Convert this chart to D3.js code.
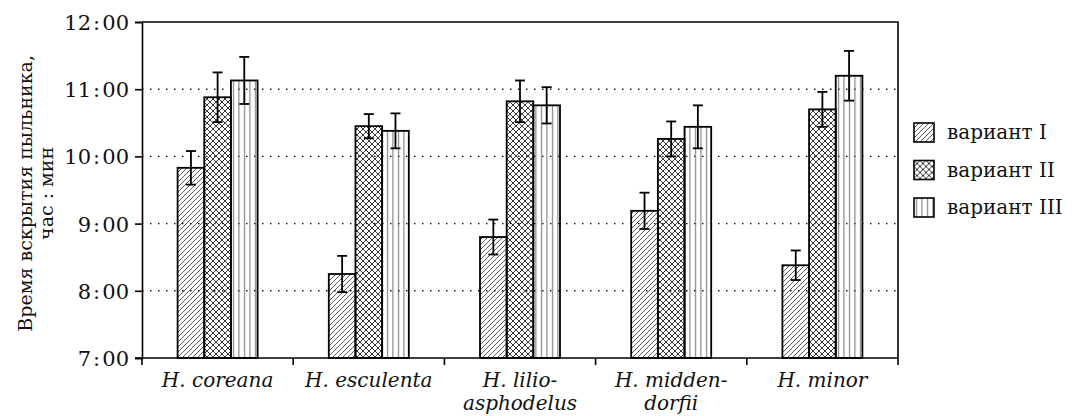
<!DOCTYPE html>
<html>
<head>
<meta charset="utf-8">
<script src="https://cdn.jsdelivr.net/npm/d3@7"></script>
<style>
  body { margin: 0; background: #fff; }
  svg text { font-family: "DejaVu Serif", "Noto Serif", serif; fill: #111; }
</style>
</head>
<body>
<div id="chart"></div>
<script>
// species (two-line labels) and variants
const species = ["H. coreana", "H. esculenta", "H. lilio-asphodelus", "H. midden-dorfii", "H. minor"];
const speciesLines = [["H. coreana"], ["H. esculenta"], ["H. lilio-", "asphodelus"], ["H. midden-", "dorfii"], ["H. minor"]];
const variants = ["вариант I", "вариант II", "вариант III"];

// opening time in hours, per variant (one value per species)
const valuesI   = [9.83, 8.25, 8.80, 9.19, 8.38];
const valuesII  = [10.88, 10.45, 10.82, 10.26, 10.70];
const valuesIII = [11.13, 10.38, 10.76, 10.44, 11.20];
// error (± hours)
const errI   = [0.25, 0.27, 0.26, 0.27, 0.22];
const errII  = [0.37, 0.18, 0.31, 0.26, 0.26];
const errIII = [0.35, 0.26, 0.27, 0.32, 0.37];

const yTicks = [7, 8, 9, 10, 11, 12];
const gridTicks = [8, 9, 10, 11];

const width = 1075, height = 416;
const margin = {left: 142, right: 177, top: 22, bottom: 58};
const serif = "DejaVu Serif";

const svg = d3.select("#chart").append("svg")
    .attr("width", width)
    .attr("height", height);

// patterns
const defs = svg.append("defs");
const pats = ["hatch", "cross", "vert"];
defs.append("pattern").attr("id", "hatch")
    .attr("patternUnits", "userSpaceOnUse").attr("width", 5).attr("height", 5)
    .append("path")
    .attr("d", "M0,5 L5,0 M-1,1 L1,-1 M4,6 L6,4")
    .attr("stroke", "#333").attr("stroke-width", 0.8);
defs.append("pattern").attr("id", "cross")
    .attr("patternUnits", "userSpaceOnUse").attr("width", 6).attr("height", 6)
    .append("path")
    .attr("d", "M0,6 L6,0 M-1,1 L1,-1 M5,7 L7,5 M0,0 L6,6 M-1,5 L1,7 M5,-1 L7,1")
    .attr("stroke", "#222").attr("stroke-width", 0.9);
defs.append("pattern").attr("id", "vert")
    .attr("patternUnits", "userSpaceOnUse").attr("width", 5.5).attr("height", 6)
    .append("path")
    .attr("d", "M2.5,0 L2.5,6")
    .attr("stroke", "#555").attr("stroke-width", 0.9);

const x0 = d3.scaleBand().domain(species).range([margin.left, width - margin.right]);
const groupW = 80;
const x1 = d3.scaleBand().domain(variants).range([0, groupW]);
const y = d3.scaleLinear().domain([7, 12]).range([height - margin.bottom, margin.top]);

const data = [];
species.forEach((s, i) => {
    data.push({s: s, v: variants[0], val: valuesI[i], err: errI[i], p: pats[0]});
    data.push({s: s, v: variants[1], val: valuesII[i], err: errII[i], p: pats[1]});
    data.push({s: s, v: variants[2], val: valuesIII[i], err: errIII[i], p: pats[2]});
});

// grid
svg.append("g").selectAll("line").data(gridTicks).join("line")
    .attr("x1", margin.left).attr("x2", width - margin.right)
    .attr("y1", d => y(d)).attr("y2", d => y(d))
    .attr("stroke", "#111").attr("stroke-width", 1.4)
    .attr("stroke-dasharray", "1.5,6.5");

// bars
const off = (x0.bandwidth() - groupW) / 2;
const bx = d => x0(d.s) + off + x1(d.v);
svg.append("g").selectAll("rect").data(data).join("rect")
    .attr("x", bx)
    .attr("y", d => y(d.val))
    .attr("width", x1.bandwidth())
    .attr("height", d => y(7) - y(d.val))
    .attr("fill", d => `url(#${d.p})`)
    .attr("stroke", "#000").attr("stroke-width", 1.8);

// error bars
const eb = svg.append("g").attr("stroke", "#000").attr("stroke-width", 1.8);
data.forEach(d => {
    const cx = bx(d) + x1.bandwidth() / 2;
    eb.append("line").attr("x1", cx).attr("x2", cx)
        .attr("y1", y(d.val + d.err)).attr("y2", y(d.val - d.err));
    eb.append("line").attr("x1", cx - 5).attr("x2", cx + 5)
        .attr("y1", y(d.val + d.err)).attr("y2", y(d.val + d.err));
    eb.append("line").attr("x1", cx - 5).attr("x2", cx + 5)
        .attr("y1", y(d.val - d.err)).attr("y2", y(d.val - d.err));
});

// frame (top and right)
svg.append("path")
    .attr("d", `M${margin.left},${margin.top} H${width - margin.right} V${height - margin.bottom}`)
    .attr("fill", "none").attr("stroke", "#000").attr("stroke-width", 1.6);

// y axis
const yAxis = svg.append("g")
    .attr("transform", `translate(${margin.left},0)`)
    .call(d3.axisLeft(y).tickValues(yTicks).tickSize(7).tickPadding(6)
        .tickFormat(d => `${d}\u200A:\u200A00`));
yAxis.attr("font-family", serif);
yAxis.selectAll("path, line").attr("stroke", "#000").attr("stroke-width", 1.6);
yAxis.selectAll("text").attr("font-size", 21).attr("font-family", serif).attr("dy", "0.36em");

// x axis
const xAxis = svg.append("g")
    .attr("transform", `translate(0,${height - margin.bottom})`);
xAxis.append("line")
    .attr("x1", margin.left - 7).attr("x2", width - margin.right)
    .attr("stroke", "#000").attr("stroke-width", 1.6);
const bounds = species.map(s => x0(s)).concat([width - margin.right]);
xAxis.selectAll(".tk").data(bounds).join("line")
    .attr("x1", d => d).attr("x2", d => d).attr("y1", 0).attr("y2", 7)
    .attr("stroke", "#000").attr("stroke-width", 1.6);
const lbl = xAxis.selectAll(".lbl").data(species).join("text")
    .attr("text-anchor", "middle")
    .attr("font-family", serif)
    .attr("font-size", 20).attr("font-style", "italic")
    .attr("x", d => x0(d) + x0.bandwidth() / 2);
lbl.each(function(d, i) {
    speciesLines[i].forEach((t, k) => {
        d3.select(this).append("tspan")
            .attr("x", x0(d) + x0.bandwidth() / 2)
            .attr("y", 29 + k * 23)
            .text(t);
    });
});

// y label
const yl = svg.append("text")
    .attr("transform", `translate(32,${y(9.45)}) rotate(-90)`)
    .attr("text-anchor", "middle").attr("font-size", 19)
    .attr("font-family", serif);
yl.append("tspan").attr("x", 0).attr("y", 0).text("Время вскрытия пыльника,");
yl.append("tspan").attr("x", 0).attr("y", 21).text("час : мин");

// legend
const leg = svg.append("g").attr("transform", "translate(914,123)");
variants.forEach((v, i) => {
    const g = leg.append("g").attr("transform", `translate(0,${i * 37.5})`);
    g.append("rect").attr("width", 20).attr("height", 19)
        .attr("fill", `url(#${pats[i]})`)
        .attr("stroke", "#000").attr("stroke-width", 1.6);
    g.append("text").attr("x", 33).attr("y", 16).attr("font-size", 20)
        .attr("font-family", serif).text(v);
});
</script>
</body>
</html>
